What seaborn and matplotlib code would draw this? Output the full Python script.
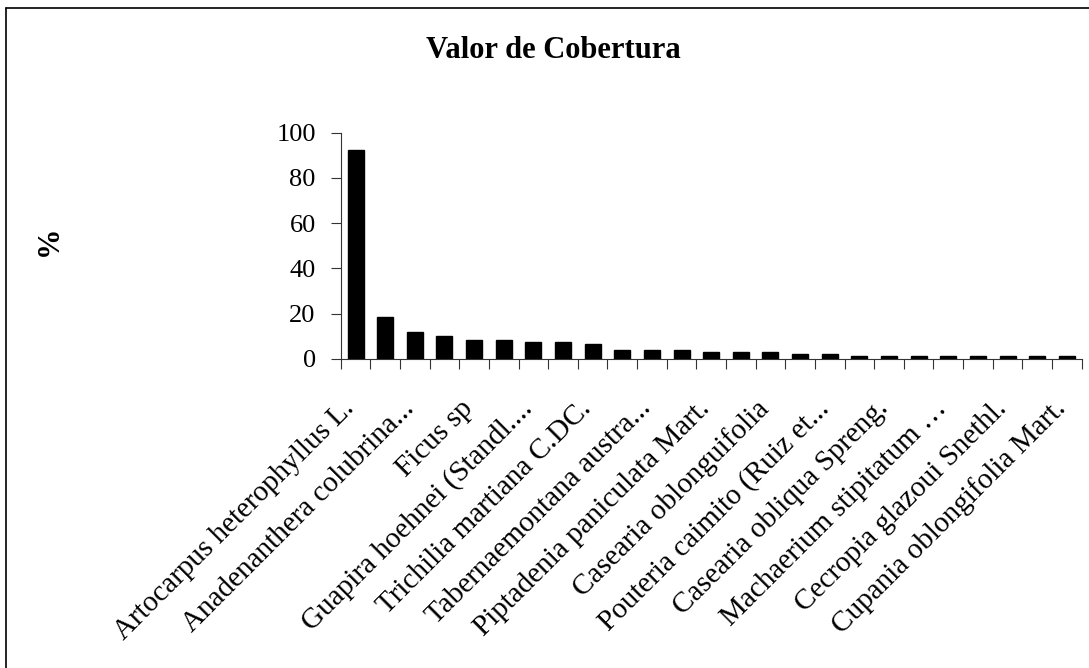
import matplotlib
matplotlib.use("Agg")
import matplotlib.pyplot as plt
import matplotlib.lines as mlines
import matplotlib.transforms as mtransforms
import numpy as np
import pandas as pd
import seaborn as sns

# bar heights (%), in plotted order
valores = [92.3, 18.6, 11.7, 9.9, 8.3, 8.3, 7.2, 7.2, 6.3, 3.7, 3.7, 3.7,
           2.8, 2.8, 2.8, 1.9, 1.9, 1.0, 1.0, 1.0, 1.0, 1.0, 1.0, 1.0, 1.0]

# only every other species name is printed on the axis
rotulos = [
    "Artocarpus heterophyllus L.", "",
    "Anadenanthera colubrina...", "",
    "Ficus sp", "",
    "Guapira hoehnei (Standl....", "",
    "Trichilia martiana C.DC.", "",
    "Tabernaemontana austra...", "",
    "Piptadenia paniculata Mart.", "",
    "Casearia oblonguifolia", "",
    "Pouteria caimito (Ruiz et...", "",
    "Casearia obliqua Spreng.", "",
    "Machaerium stipitatum \u2026", "",
    "Cecropia glazoui Snethl.", "",
    "Cupania oblongifolia Mart.",
]

titulo = "Valor de Cobertura"
eixo_y = "%"
yticks = [0, 20, 40, 60, 80, 100]

W, H = 1089, 668

sns.set_theme(style="white")
plt.rcParams["font.family"] = ["Liberation Serif", "DejaVu Serif"]
plt.rcParams.update({"text.color": "black", "axes.labelcolor": "black",
                     "xtick.color": "black", "ytick.color": "black"})

df = pd.DataFrame({"pos": [str(i) for i in range(len(valores))], "valor": valores})

fig = plt.figure(figsize=(W / 100, H / 100), dpi=100)
ax = fig.add_axes([340.7 / W, 1 - 358.7 / H, (1081.7 - 340.7) / W, (358.7 - 132.7) / H])

sns.barplot(data=df, x="pos", y="valor", color="black", width=0.54,
            saturation=1, edgecolor="black", ax=ax)

ax.set_xlim(-0.5, len(valores) - 0.5)
ax.set_ylim(0, 100)
ax.set_yticks(yticks)
ax.set_yticklabels([str(v) for v in yticks], fontsize=19)
ax.tick_params(axis="y", direction="out", length=7, width=0.8, color="#333333",
               left=True, pad=11)

ax.set_xticks(range(len(valores)))
ax.set_xticklabels(rotulos, rotation=45, ha="right", va="center",
                   rotation_mode="anchor", fontsize=21)
ax.tick_params(axis="x", which="major", length=0, pad=33)
deslocar = mtransforms.ScaledTranslation(-5 / 100, 0, fig.dpi_scale_trans)
for t in ax.get_xticklabels():
    t.set_transform(t.get_transform() + deslocar)
ax.set_xticks(np.arange(-0.5, len(valores), 1), minor=True)
ax.tick_params(axis="x", which="minor", direction="out", length=7, width=0.8,
               color="#333333", bottom=True)

ax.set_xlabel("")
ax.set_ylabel(eixo_y, fontsize=22, fontweight="bold")
ax.yaxis.set_label_coords((64 - 340.7) / (1081.7 - 340.7), 0.52)

for s in ["top", "right"]:
    ax.spines[s].set_visible(False)
for s in ["left", "bottom"]:
    ax.spines[s].set_color("#333333")
    ax.spines[s].set_linewidth(0.8)

fig.text(553 / W, 1 - 50 / H, titulo, ha="center", va="center",
         fontsize=22, fontweight="bold")

# chart frame, only left and top edges are inside the picture
fig.add_artist(mlines.Line2D([6 / W, 6 / W], [0, 1 - 8 / H], color="black", lw=1.2,
                             transform=fig.transFigure))
fig.add_artist(mlines.Line2D([6 / W, 1], [1 - 8 / H, 1 - 8 / H], color="black", lw=1.2,
                             transform=fig.transFigure))

fig.savefig("out.png", dpi=100, facecolor="white")
